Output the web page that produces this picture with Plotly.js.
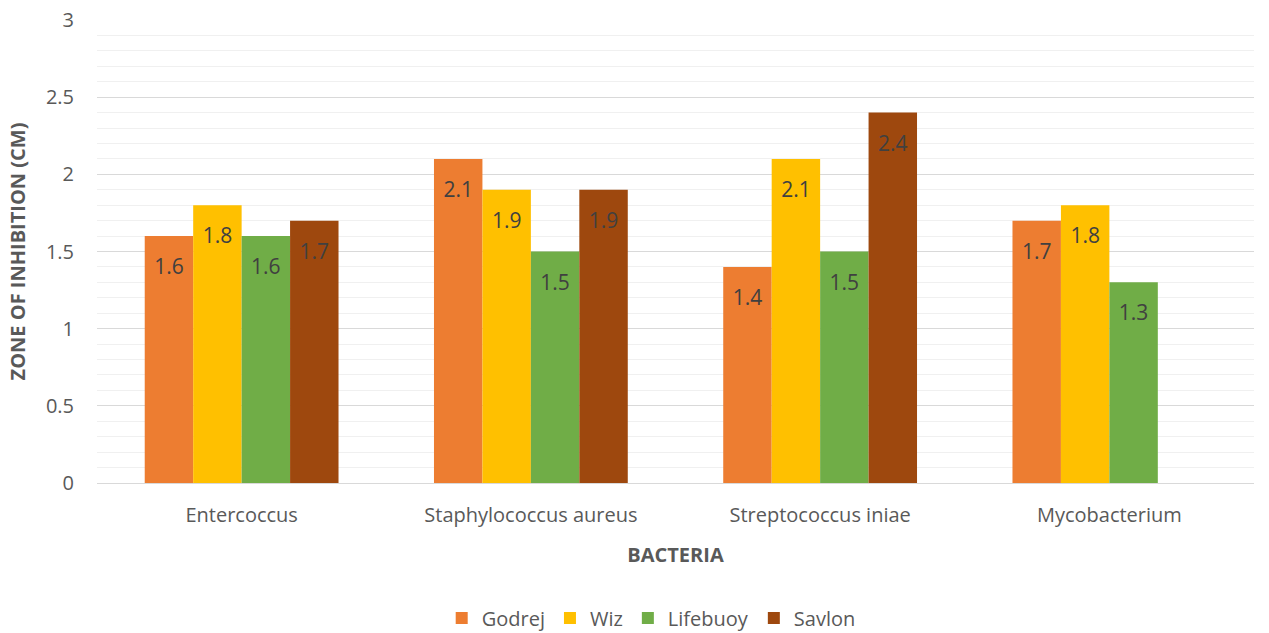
<!DOCTYPE html>
<html>
<head>
<meta charset="utf-8">
<script src="https://cdn.plot.ly/plotly-3.0.1.min.js"></script>
<style>html,body{margin:0;padding:0;background:#fff;}#chart{width:1269px;height:633px;}</style>
</head>
<body>
<div id="chart"></div>
<script>
const categories = ["Entercoccus", "Staphylococcus aureus", "Streptococcus iniae", "Mycobacterium"];
const godrej = [1.6, 2.1, 1.4, 1.7];
const wiz = [1.8, 1.9, 2.1, 1.8];
const lifebuoy = [1.6, 1.5, 1.5, 1.3];
const savlon = [1.7, 1.9, 2.4, null];
const seriesNames = ["Godrej", "Wiz", "Lifebuoy", "Savlon"];
const seriesColors = ["#ED7D31", "#FFC000", "#70AD47", "#9E480E"];
const seriesValues = [godrej, wiz, lifebuoy, savlon];

const font = "Open Sans, Liberation Sans, sans-serif";
const bars = seriesValues.map((vals, i) => ({
  type: "bar",
  name: seriesNames[i],
  x: categories,
  y: vals,
  marker: {color: seriesColors[i]},
  hoverinfo: "x+y+name"
}));
const labels = seriesValues.map((vals, i) => ({
  type: "scatter",
  mode: "markers+text",
  name: seriesNames[i] + " labels",
  showlegend: false,
  x: categories,
  y: vals,
  text: vals.map(v => v === null ? "" : String(v)),
  textposition: "bottom center",
  textfont: {family: font, size: 21, color: "#404040"},
  marker: {size: 34, color: "rgba(0,0,0,0)"},
  hoverinfo: "skip",
  cliponaxis: false
}));

const layout = {
  width: 1269, height: 633,
  margin: {l: 97, r: 15, t: 20, b: 150},
  paper_bgcolor: "#fff", plot_bgcolor: "#fff",
  barmode: "group",
  bargap: 0.33,
  bargroupgap: 0,
  scattermode: "group",
  scattergap: 0.33,
  font: {family: font, color: "#595959"},
  xaxis: {
    automargin: false,
    tickfont: {size: 20, color: "#595959"},
    ticklabelstandoff: 18,
    showgrid: false, showline: false, ticks: "",
    title: {text: "BACTERIA", font: {size: 20, color: "#595959", weight: "bold"}, standoff: 20}
  },
  yaxis: {
    automargin: false,
    range: [0, 3], dtick: 0.5,
    tickfont: {size: 20, color: "#595959"},
    ticklabelstandoff: 22,
    gridcolor: "#d9d9d9", gridwidth: 1,
    zeroline: true, zerolinecolor: "#d9d9d9", zerolinewidth: 1,
    showline: false, ticks: "", ticklen: 0,
    minor: {dtick: 0.1, showgrid: true, gridcolor: "#f0f0f0", gridwidth: 1},
    title: {text: "ZONE OF INHIBITION (CM)", font: {size: 20, color: "#595959", weight: "bold"}, standoff: 14}
  },
  legend: {
    orientation: "h", x: 0.479, xanchor: "center",
    yref: "container", y: 0.0237, yanchor: "middle",
    font: {size: 20, color: "#595959"}, traceorder: "normal", itemwidth: 30
  }
};
Plotly.newPlot("chart", bars.concat(labels), layout, {displayModeBar: false, staticPlot: true});
</script>
</body>
</html>
